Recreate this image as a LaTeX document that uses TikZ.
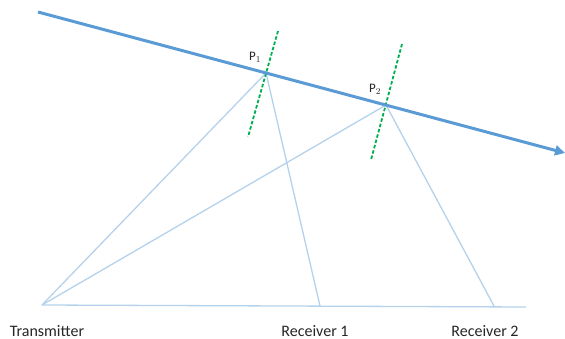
\documentclass[tikz,border=0pt]{standalone}
\usepackage{fontspec}
\setmainfont{Carlito}
\usetikzlibrary{arrows.meta}
\definecolor{mainblue}{RGB}{91,155,213}
\definecolor{lightray}{RGB}{180,210,235}
\definecolor{dgreen}{RGB}{0,176,80}
\tikzset{
  path/.style={draw=mainblue, line width=3pt, -{Triangle[length=10pt,width=10pt]}},
  ray/.style={draw=lightray, line width=1.3pt},
  tangent/.style={draw=dgreen, line width=1.8pt, dash pattern=on 3.5pt off 2pt},
  lbl/.style={font=\fontsize{16}{18}\selectfont, text=black!85, inner sep=0pt, anchor=base},
  plbl/.style={font=\fontsize{13}{15}\selectfont, text=black!85, inner sep=0pt}
}
\begin{document}
\begin{tikzpicture}[x=1pt,y=-1pt]
\useasboundingbox (0,0) rectangle (565,339);
% coordinates
\coordinate (S) at (38,12);
\coordinate (E) at (565,153);
\coordinate (P1) at (266,73);
\coordinate (P2) at (386,105);
\coordinate (T) at (42,305);
\coordinate (R1) at (320,306);
\coordinate (R2) at (494,306);
\coordinate (Bend) at (526,307);
\coordinate (G1a) at (278,31);
\coordinate (G1b) at (248,137);
\coordinate (G2a) at (402,44);
\coordinate (G2b) at (371,160);
% rays
\draw[ray] (T) -- (Bend);
\draw[ray] (T) -- (P1) -- (R1);
\draw[ray] (T) -- (P2) -- (R2);
% tangents
\draw[tangent] (G1a) -- (G1b);
\draw[tangent] (G2a) -- (G2b);
% path
\draw[path] (S) -- (E);
% labels
\node[plbl] (lp1) at (255,57) {P$_1$};
\node[plbl] (lp2) at (375,89) {P$_2$};
\node[lbl] (lt) at (47,336) {Transmitter};
\node[lbl] (lr1) at (315,336) {Receiver 1};
\node[lbl] (lr2) at (485,336) {Receiver 2};
\end{tikzpicture}
\end{document}
